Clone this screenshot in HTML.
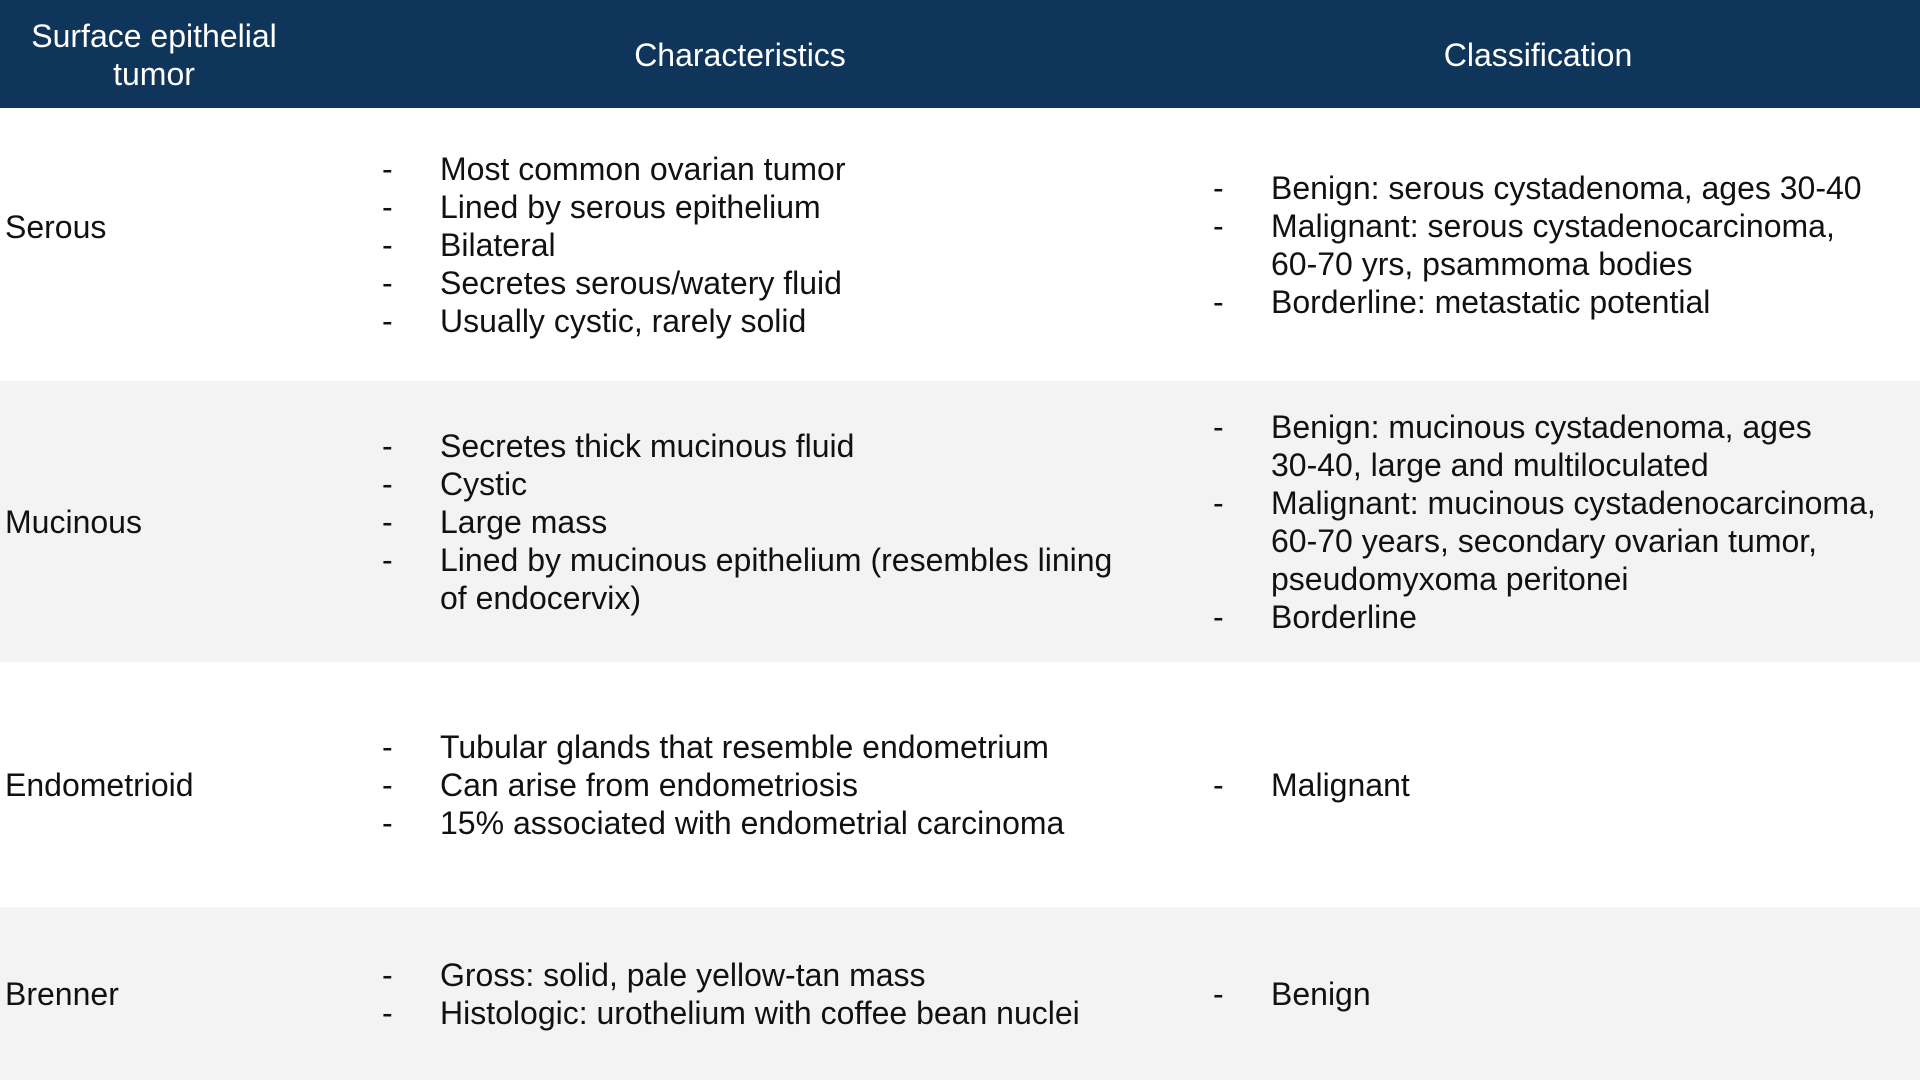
<!DOCTYPE html>
<html><head><meta charset="utf-8">
<style>
html,body{margin:0;padding:0;width:1920px;height:1080px;overflow:hidden;background:#fff;font-family:"Liberation Sans",Arial,sans-serif;color:#111;}
.hdr{position:absolute;left:0;top:0;width:1920px;height:108px;background:#10355a;color:#fff;font-size:32px;}
.hc{position:absolute;top:1px;height:108px;display:flex;align-items:center;justify-content:center;text-align:center;line-height:38px;}
.row{position:absolute;left:0;width:1920px;}
.gray{background:#f3f3f3;}
.cell{position:absolute;top:0;height:100%;display:flex;flex-direction:column;justify-content:center;font-size:32px;line-height:38px;}
.name{left:5px;}
.ch{left:382px;width:760px;}
.cl{left:1213px;width:667px;}
.li{position:relative;padding-left:58px;}
.li::before{content:"-";position:absolute;left:0;top:0;}
.nw{white-space:nowrap;}
</style></head><body>
<div class="hdr">
  <div class="hc" style="left:0;width:308px">Surface epithelial<br>tumor</div>
  <div class="hc" style="left:540px;width:400px">Characteristics</div>
  <div class="hc" style="left:1338px;width:400px">Classification</div>
</div>

<div class="row" style="top:108px;height:273px">
  <div class="cell name" style="top:-18px">Serous</div>
  <div class="cell ch">
    <div class="li">Most common ovarian tumor</div>
    <div class="li">Lined by serous epithelium</div>
    <div class="li">Bilateral</div>
    <div class="li">Secretes serous/watery fluid</div>
    <div class="li">Usually cystic, rarely solid</div>
  </div>
  <div class="cell cl">
    <div class="li">Benign: serous cystadenoma, ages 30-40</div>
    <div class="li">Malignant: serous cystadenocarcinoma, <span class="nw">60-70</span> yrs, psammoma bodies</div>
    <div class="li">Borderline: metastatic potential</div>
  </div>
</div>

<div class="row gray" style="top:381px;height:281px">
  <div class="cell name">Mucinous</div>
  <div class="cell ch">
    <div class="li">Secretes thick mucinous fluid</div>
    <div class="li">Cystic</div>
    <div class="li">Large mass</div>
    <div class="li">Lined by mucinous epithelium (resembles lining of endocervix)</div>
  </div>
  <div class="cell cl">
    <div class="li">Benign: mucinous cystadenoma, ages <span class="nw">30-40,</span> large and multiloculated</div>
    <div class="li">Malignant: mucinous cystadenocarcinoma, <span class="nw">60-70</span> years, secondary ovarian tumor, pseudomyxoma peritonei</div>
    <div class="li">Borderline</div>
  </div>
</div>

<div class="row" style="top:662px;height:245px">
  <div class="cell name">Endometrioid</div>
  <div class="cell ch">
    <div class="li">Tubular glands that resemble endometrium</div>
    <div class="li">Can arise from endometriosis</div>
    <div class="li">15% associated with endometrial carcinoma</div>
  </div>
  <div class="cell cl">
    <div class="li">Malignant</div>
  </div>
</div>

<div class="row gray" style="top:907px;height:173px">
  <div class="cell name">Brenner</div>
  <div class="cell ch">
    <div class="li">Gross: solid, pale yellow-tan mass</div>
    <div class="li">Histologic: urothelium with coffee bean nuclei</div>
  </div>
  <div class="cell cl">
    <div class="li">Benign</div>
  </div>
</div>
</body></html>
